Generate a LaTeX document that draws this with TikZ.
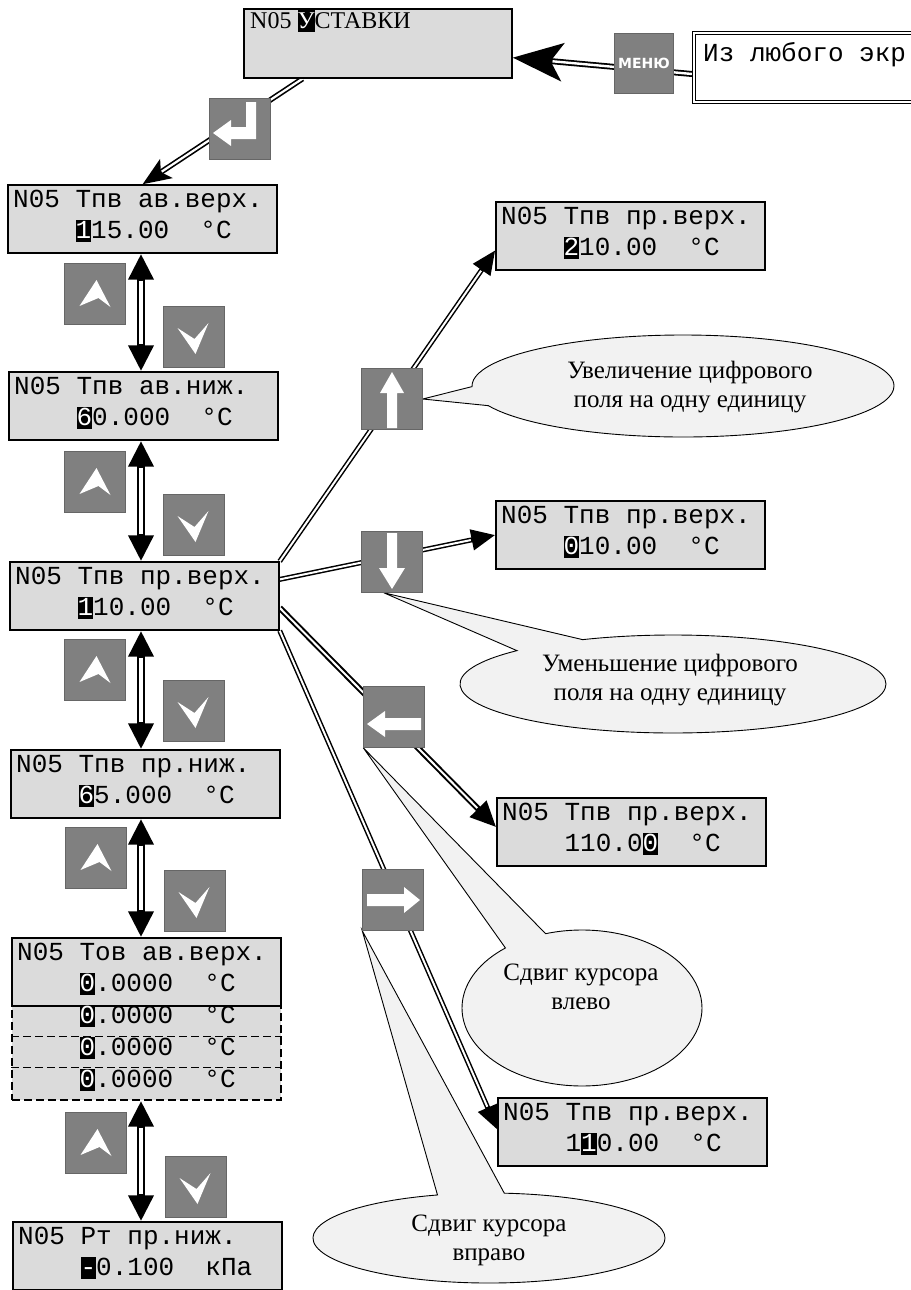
\documentclass[tikz,border=0pt]{standalone}
\usepackage{fontspec}
\setmainfont{Liberation Serif}
\newfontfamily\lcdfont{Liberation Mono}
\newfontfamily\keyfont{DejaVu Sans}
\usetikzlibrary{arrows.meta,shapes.callouts,calc}
\pgfdeclarelayer{back}
\pgfdeclarelayer{bg}
\pgfdeclarelayer{conn}
\pgfsetlayers{back,bg,conn,main}

\newcommand\cur[1]{{\setlength{\fboxsep}{0pt}\colorbox{black}{\rule[-4pt]{0pt}{22pt}\textcolor{white}{#1}}}}
\newcommand\curA[1]{{\setlength{\fboxsep}{0pt}\colorbox{black}{\rule[-3pt]{0pt}{23pt}\textcolor{white}{#1}}}}

\tikzset{
  lcdbox/.style={rectangle, draw=black, line width=1.4pt, fill=black!14, minimum width=269pt, minimum height=68pt, inner sep=0pt},
  lcdtext/.style={inner sep=0pt, anchor=base west, font=\lcdfont\fontsize{26}{30}\selectfont},
  izbox/.style={rectangle, draw=black, double, double distance=1.8pt, line width=1.1pt, fill=white, minimum width=252pt, minimum height=69pt, inner sep=0pt},
  keybox/.style={rectangle, fill=black!50, draw=black!60, line width=0.5pt, minimum width=61pt, minimum height=61pt, inner sep=0pt},
  balloon/.style={ellipse callout, draw=black, line width=0.9pt, fill=black!5, inner sep=0pt, callout pointer arc=22},
  btext/.style={font=\fontsize{25}{29}\selectfont, align=center, inner sep=0pt},
  sepline/.style={draw=black, line width=1.4pt, dash pattern=on 8pt off 4pt},
  dline/.style={line width=5pt, -{Triangle[width=20pt,length=24pt]}, postaction={draw=white, line width=2pt, -, shorten >=25pt}},
  dlinebold/.style={line width=6pt, -{Triangle[width=22pt,length=26pt]}, postaction={draw=white, line width=2pt, -, shorten >=27pt}},
  vline/.style={line width=8pt, {Triangle[width=24pt,length=26pt]}-{Triangle[width=24pt,length=26pt]}, postaction={draw=white, line width=3.5pt, -, shorten <=27pt, shorten >=27pt}},
  menuline/.style={line width=6pt, -{Stealth[width=38pt,length=50pt,inset=12pt]}, postaction={draw=white, line width=2.4pt, -, shorten >=40pt}},
  enterline/.style={line width=5.5pt, -{Stealth[width=22pt,length=28pt,inset=6pt]}, postaction={draw=white, line width=2.2pt, -, shorten >=23pt}},
}

\newcommand\lcdunit[5]{%
  \node[lcdbox] (#1) at ({#2+134.5},{#3+34}) {};
  \node[lcdtext] (#1a) at ({#2+5},{#3+22}) {#4};
  \node[lcdtext] (#1b) at ({#2+5},{#3+53}) {#5};
}
\newcommand\mynavup[1]{\fill[white,shift={(#1.center)}] (2,-14) -- (-15,12) -- (4,4) -- (16,13) -- cycle;}
\newcommand\mynavdown[1]{\fill[white,shift={(#1.center)}] (2,17) -- (-16,-9) -- (1,2) -- (15,-14) -- cycle;}
\newcommand\myupicon[1]{\fill[white,shift={(#1.center)}] (0,-27) -- (12,-6) -- (5,-6) -- (5,29) -- (-5,29) -- (-5,-6) -- (-12,-6) -- cycle;}
\newcommand\mydownicon[1]{\fill[white,shift={(#1.center)}] (0,27) -- (13,6) -- (5,6) -- (5,-29) -- (-5,-29) -- (-5,6) -- (-13,6) -- cycle;}
\newcommand\mylefticon[1]{\fill[white,shift={(#1.center)}] (-27,7) -- (-9,-6) -- (-9,1) -- (27,1) -- (27,13) -- (-9,13) -- (-9,20) -- cycle;}
\newcommand\myrighticon[1]{\fill[white,shift={(#1.center)}] (27,0) -- (11,-13) -- (11,-6) -- (-26,-6) -- (-26,6) -- (11,6) -- (11,13) -- cycle;}
\newcommand\myentericon[1]{\fill[white,shift={(#1.center)}] (16,-27) -- (16,10) -- (-9,10) -- (-9,17) -- (-27,4) -- (-9,-9) -- (-9,-2) -- (6,-2) -- (6,-27) -- cycle;}

\begin{document}
\begin{tikzpicture}[x=1pt,y=-1pt]
\useasboundingbox (0,0) rectangle (910,1290);
\begin{pgfonlayer}{back}
  \fill[white] (0,0) rectangle (910,1290);
\end{pgfonlayer}

% ---------- top ----------
\node[lcdbox, minimum width=268pt, minimum height=69pt] (A) at (378,43.5) {};
\node[inner sep=0pt, anchor=base west, font=\fontsize{24}{28}\selectfont] (At) at (250,29) {N05 \curA{У}СТАВКИ};
\node[izbox] (Iz) at (820,67.5) {};
\node[lcdtext] (Izt) at (703,62) {Из~любого~экр};

% ---------- left column ----------
\lcdunit{B1}{8}{185}{N05~Тпв~ав.верх.}{~~~~\cur{1}15.00~~°C}
\lcdunit{B2}{9}{372}{N05~Тпв~ав.ниж.}{~~~~\cur{6}0.000~~°C}
\lcdunit{B3}{10}{562}{N05~Тпв~пр.верх.}{~~~~\cur{1}10.00~~°C}
\lcdunit{B4}{11}{750}{N05~Тпв~пр.ниж.}{~~~~\cur{6}5.000~~°C}
\node[lcdbox, dash pattern=on 8pt off 4pt, minimum height=94pt] (B5d) at (146.5,1053) {};
\draw[sepline] ($(B5d.north west)+(0,31)$) -- ($(B5d.north east)+(0,31)$);
\draw[sepline] ($(B5d.north west)+(0,62)$) -- ($(B5d.north east)+(0,62)$);
\lcdunit{B5}{12}{938}{N05~Тов~ав.верх.}{~~~~\cur{0}.0000~~°C}
\node[lcdtext] (B5r2) at (17,1023) {~~~~\cur{0}.0000~~°C};
\node[lcdtext] (B5r3) at (17,1055) {~~~~\cur{0}.0000~~°C};
\node[lcdtext] (B5r4) at (17,1087) {~~~~\cur{0}.0000~~°C};
\lcdunit{B6}{13}{1222}{N05~Рт~пр.ниж.}{~~~~\cur{-}0.100~~кПа}

% ---------- right column ----------
\lcdunit{R1}{496}{202}{N05~Тпв~пр.верх.}{~~~~\cur{2}10.00~~°C}
\lcdunit{R2}{496}{501}{N05~Тпв~пр.верх.}{~~~~\cur{0}10.00~~°C}
\lcdunit{R3}{497}{798}{N05~Тпв~пр.верх.}{~~~~110.0\cur{0}~~°C}
\lcdunit{R4}{498}{1098}{N05~Тпв~пр.верх.}{~~~~1\cur{1}0.00~~°C}

% ---------- keys ----------
\node[keybox, minimum width=59pt, minimum height=60pt, text=white, font=\keyfont\bfseries\fontsize{14}{14}\selectfont] (MK) at (644,63) {МЕНЮ};
\node[keybox] (KE) at (240,129) {}; \myentericon{KE}
\node[keybox] (U1) at (94.5,294) {}; \mynavup{U1}
\node[keybox] (D1) at (193.5,337) {}; \mynavdown{D1}
\node[keybox] (U2) at (94.5,482) {}; \mynavup{U2}
\node[keybox] (D2) at (193.5,525) {}; \mynavdown{D2}
\node[keybox] (U3) at (94.5,670) {}; \mynavup{U3}
\node[keybox] (D3) at (193.5,711) {}; \mynavdown{D3}
\node[keybox] (U4) at (95.5,858) {}; \mynavup{U4}
\node[keybox] (D4) at (194.5,901) {}; \mynavdown{D4}
\node[keybox] (U5) at (95.5,1143) {}; \mynavup{U5}
\node[keybox] (D5) at (195.5,1187) {}; \mynavdown{D5}
\node[keybox] (KU) at (392,399) {}; \myupicon{KU}
\node[keybox] (KD) at (392,562) {}; \mydownicon{KD}
\node[keybox] (KL) at (394,717) {}; \mylefticon{KL}
\node[keybox] (KR) at (393,900) {}; \myrighticon{KR}

\coordinate (vx) at (141,0);

% ---------- connectors ----------
\begin{pgfonlayer}{conn}
  \draw[menuline] (Iz.183) -- (A.354);
  \draw[enterline] (A.205) -- (B1.north);
  \draw[vline] (B1.south -| vx) -- (B2.north -| vx);
  \draw[vline] (B2.south -| vx) -- (B3.north -| vx);
  \draw[vline] (B3.south -| vx) -- (B4.north -| vx);
  \draw[vline] (B4.south -| vx) -- (B5.north -| vx);
  \draw[vline] (B5d.south -| vx) -- (B6.north -| vx);
  \draw[dline] (B3.north east) -- (R1.186);
  \draw[dline] (B3.7) -- (R2.west);
  \draw[dlinebold] (B3.355) -- (R3.178);
  \draw[dline] (B3.south east) -- (R4.179);
\end{pgfonlayer}

% ---------- balloons ----------
\begin{pgfonlayer}{bg}
  \node[balloon, minimum width=422pt, minimum height=102pt, callout absolute pointer={(KU.east)}] (C1) at (683,386) {};
  \node[btext] (T1) at (690,387) {Увеличение цифрового\\поля на одну единицу};
  \node[balloon, minimum width=426pt, minimum height=98pt, callout absolute pointer={(KD.255)}] (C2) at (673,684) {};
  \node[btext] (T2) at (670,680) {Уменьшение цифрового\\поля на одну единицу};
  \node[balloon, minimum width=240pt, minimum height=156pt, callout absolute pointer={(KL.south west)}] (C3) at (582,1008) {};
  \node[btext] (T3) at (581,987) {Сдвиг курсора\\влево};
  \node[balloon, minimum width=352pt, minimum height=90pt, callout absolute pointer={(KR.south west)}] (C4) at (489,1238) {};
  \node[btext] (T4) at (489,1240) {Сдвиг курсора\\вправо};
\end{pgfonlayer}
\end{tikzpicture}
\end{document}
